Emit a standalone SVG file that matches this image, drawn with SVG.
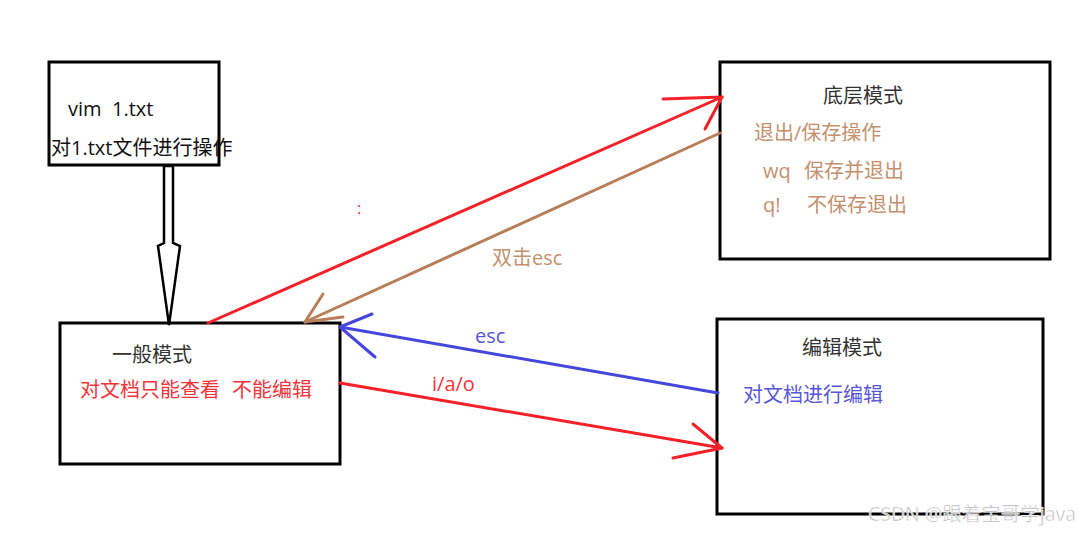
<svg xmlns="http://www.w3.org/2000/svg" width="1089" height="535" viewBox="0 0 1089 535">
<style>
.box{fill:#fff;stroke:#000;stroke-width:3}
text{font-family:"Open Sans","Noto Sans CJK SC",sans-serif;font-size:20px;white-space:pre}
.dark{fill:#333}
.blk{fill:#111}
.red{fill:#f5333a}
.tan{fill:#c4906e}
.blue{fill:#5656d8}
.ln{fill:none;stroke-width:3;stroke-linecap:round;stroke-linejoin:round}
</style>
<rect width="1089" height="535" fill="#fff"/>
<g id="node-vim">
<rect class="box" x="49" y="62" width="170" height="103"/>
<text class="blk" x="68" y="116">vim  1.txt</text>
<text class="blk" x="51" y="155">对1.txt文件进行操作</text>
</g>
<g id="node-bottom">
<rect class="box" x="720" y="62" width="330" height="197"/>
<text class="dark" x="823" y="103">底层模式</text>
<text class="tan" x="754" y="140">退出/保存操作</text>
<text class="tan" x="763" y="178">wq</text>
<text class="tan" x="804" y="178">保存并退出</text>
<text class="tan" x="763" y="212">q!</text>
<text class="tan" x="807" y="212">不保存退出</text>
</g>
<g id="node-normal">
<rect class="box" x="60" y="323" width="280" height="141"/>
<text class="dark" x="112" y="362">一般模式</text>
<text class="red" x="80" y="397">对文档只能查看</text>
<text class="red" x="232" y="397">不能编辑</text>
</g>
<g id="node-edit">
<rect class="box" x="717" y="319" width="326" height="195"/>
<text class="dark" x="802" y="355">编辑模式</text>
<text class="blue" x="743" y="402">对文档进行编辑</text>
</g>
<g id="connectors">
<polygon points="164,166 164,243 158,246 169,325 180,246 173,243 173,166" fill="#fff" stroke="#000" stroke-width="2.5" stroke-linejoin="miter"/>
<g stroke="#f52028" class="ln">
<line x1="208" y1="323" x2="722" y2="97"/>
<polyline points="663,99 722,97 705,129"/>
</g>
<text class="red" x="357" y="214" style="font-size:17px">:</text>
<g stroke="#b97d5a" class="ln">
<line x1="720" y1="133" x2="305" y2="322"/>
<polyline points="323,294 305,322 343,317"/>
</g>
<text class="tan" x="492" y="265">双击esc</text>
<g stroke="#4646dc" class="ln">
<line x1="718" y1="393" x2="340" y2="327"/>
<polyline points="372,314 340,327 375,357"/>
</g>
<text class="blue" x="475" y="343">esc</text>
<g stroke="#f52028" class="ln">
<line x1="340" y1="383" x2="722" y2="448"/>
<polyline points="693,424 722,448 673,458"/>
</g>
<text class="red" x="432" y="391">i/a/o</text>
</g>
<text x="868" y="521" style="font-size:19.5px;fill:#b0b0b0;stroke:#fff;stroke-width:0.6">CSDN @跟着宝哥学java</text>
</svg>
